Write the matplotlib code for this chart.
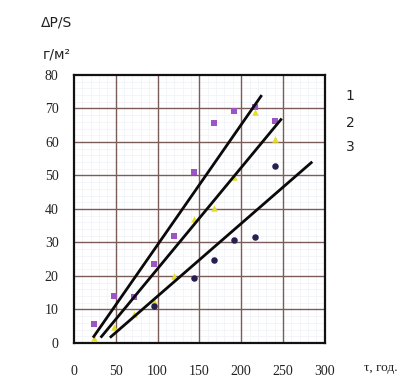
import matplotlib
matplotlib.use("Agg")
import matplotlib.pyplot as plt
from matplotlib.ticker import MultipleLocator

# Data (hours)
t = [24, 48, 72, 96, 120, 144, 168, 192, 216, 240]
s1 = [5.6, 14.0, 13.6, 23.7, 32.0, 51.1, 65.7, 69.3, 70.5, 66.4]
t2 = [24, 48, 72, 96, 120, 144, 168, 192, 216, 240]
s2 = [1.4, 4.9, 8.6, 12.6, 20.0, 37.1, 40.4, 49.5, 68.9, 61.0]
t3 = [96, 144, 168, 192, 216, 240]
s3 = [11.1, 19.4, 24.8, 30.7, 31.6, 52.8]

# Trend lines: start/end points
line_x = [[22.8, 224.6], [31.9, 248.5], [43.0, 285.0]]
line_y = [[1.6, 74.0], [1.6, 67.0], [1.6, 54.1]]
line_labels = ["1", "2", "3"]
label_y = [73.7, 65.8, 58.6]

x_ticks = [0, 50, 100, 150, 200, 250, 300]
y_ticks = [0, 10, 20, 30, 40, 50, 60, 70, 80]

fig = plt.figure(figsize=(4.04, 3.78), dpi=100)
ax = fig.add_axes([0.183, 0.0926, 0.621, 0.709])

ax.set_xlim(0, 300)
ax.set_ylim(0, 80)
ax.set_xticks(x_ticks)
ax.set_yticks(y_ticks)
ax.xaxis.set_minor_locator(MultipleLocator(10))
ax.yaxis.set_minor_locator(MultipleLocator(2))
ax.grid(which="minor", color="#eef1f6", lw=0.5, zorder=0)
ax.grid(which="major", visible=False)
for xv in x_ticks[1:-1]:
    ax.axvline(xv, color="#7a5c58", lw=1.0, zorder=1)
for yv in y_ticks[1:-1]:
    ax.axhline(yv, color="#7a5c58", lw=1.0, zorder=1)
ax.set_axisbelow(True)
ax.tick_params(which="both", length=0)
ax.tick_params(axis="y", pad=11)
ax.tick_params(axis="x", pad=16)
for lab in ax.get_xticklabels() + ax.get_yticklabels():
    lab.set_fontfamily("Liberation Serif")
    lab.set_fontsize(10)
    lab.set_color("#222222")
for sp in ax.spines.values():
    sp.set_linewidth(1.6)
    sp.set_color("#111111")

ax.scatter(t, s1, marker="s", s=22, color="#9c55c4", zorder=3, linewidths=0)
ax.scatter(t2, s2, marker="^", s=22, color="#e6dc2a", zorder=3, linewidths=0)
ax.scatter(t3, s3, marker="o", s=22, color="#262050", zorder=3, linewidths=0)

for lx, ly in zip(line_x, line_y):
    ax.plot(lx, ly, color="#0a0a0a", lw=2.0, zorder=4, solid_capstyle="butt")

for lab, yy in zip(line_labels, label_y):
    ax.text(330, yy, lab, fontsize=10, family="DejaVu Sans", color="#222222",
            ha="center", va="center", clip_on=False)

fig.text(57 / 404, 1 - 23 / 378, "ΔP/S", fontsize=10, family="DejaVu Sans",
         color="#222222", ha="center", va="center")
fig.text(57 / 404, 1 - 55 / 378, "г/м²", fontsize=10, family="DejaVu Sans",
         color="#222222", ha="center", va="center")
fig.text(381 / 404, 1 - 368 / 378, "τ, год.", fontsize=9.5, family="Liberation Serif",
         color="#222222", ha="center", va="center")

fig.savefig("out.png", dpi=100)
